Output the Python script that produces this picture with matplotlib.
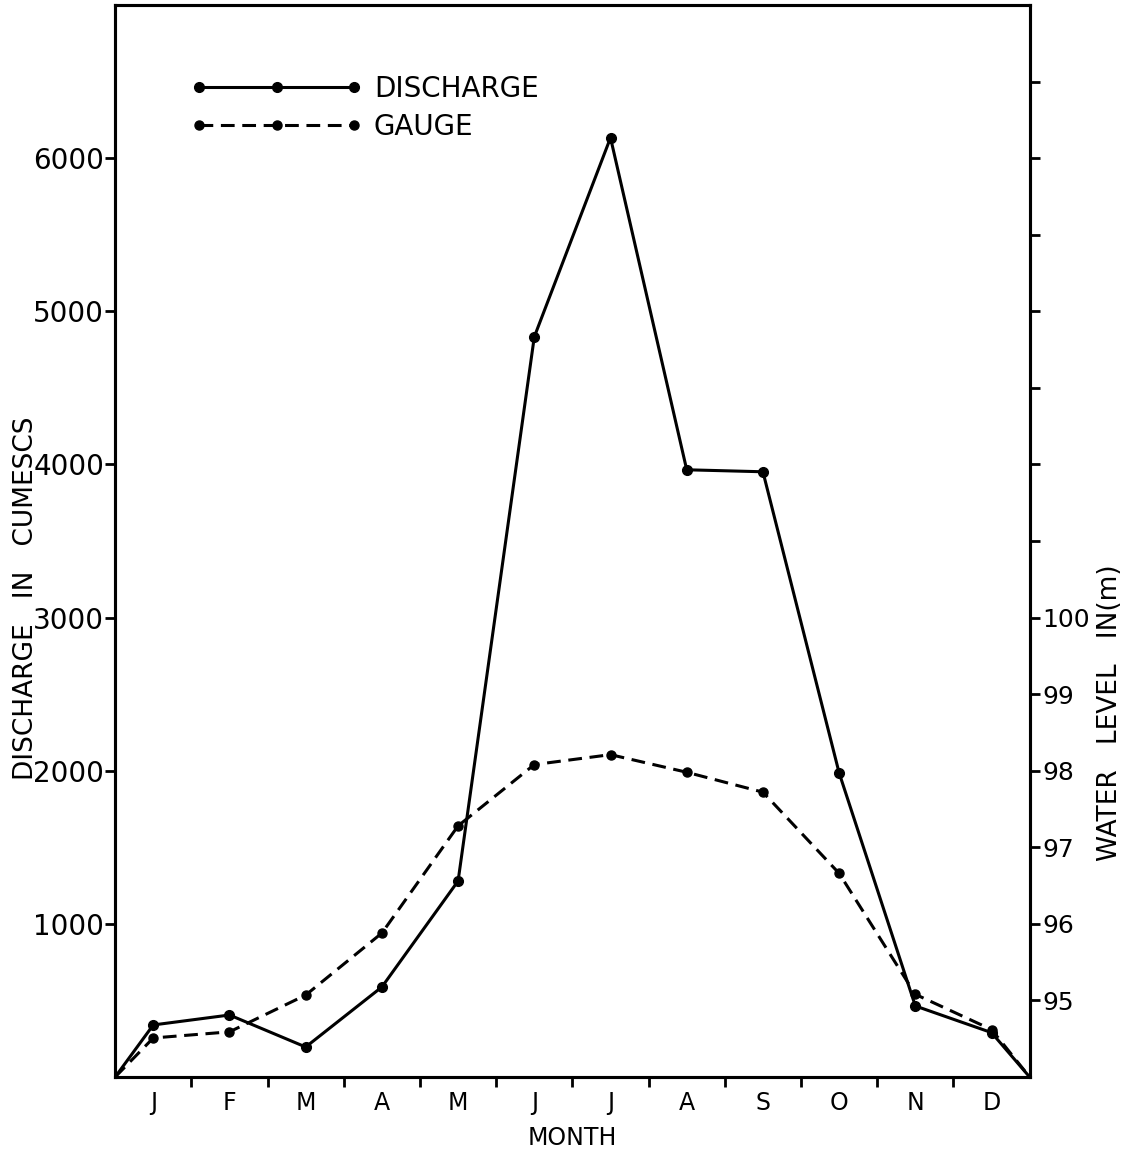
import matplotlib
matplotlib.use('Agg')
import matplotlib.pyplot as plt
from matplotlib.lines import Line2D
import numpy as np

months = ['J', 'F', 'M', 'A', 'M', 'J', 'J', 'A', 'S', 'O', 'N', 'D']
# positions: month centres, plus the start/end of the year
month_pos = [0.5 + i for i in range(12)]
x_pts = [0.0] + month_pos + [12.0]

# discharge in cumescs (left axis)
discharge = [0, 340, 405, 196, 588, 1280, 4833, 6133, 3965, 3952, 1986, 464, 290, 0]
# gauge / water level in m (right axis)
gauge = [94.0, 94.51, 94.59, 95.07, 95.88, 97.28, 98.08, 98.21, 97.98, 97.72, 96.66, 95.08, 94.62, 94.0]

left_ticks = [1000, 2000, 3000, 4000, 5000, 6000]
left_labels = ['1000', '2000', '3000', '4000', '5000', '6000']
right_ticks = list(range(95, 108))
right_labels = ['95', '96', '97', '98', '99', '100'] + [''] * 7

fig = plt.figure(figsize=[11.29, 11.54], dpi=100)
ax = fig.add_axes([0.102, 0.0667, 0.810, 0.929])
ax2 = ax.twinx()

lw = 2.2
ax.plot(x_pts, discharge, color='black', lw=lw, marker='o', ms=7, markevery=list(range(1, 13)))
ax2.plot(x_pts, gauge, color='black', lw=lw, ls=(0, (4.5, 2.5)), marker='o', ms=6.5,
         markevery=list(range(1, 13)))

ax.set_xlim(0, 12)
ax.set_ylim(0, 7000)
ax2.set_ylim(94, 108)

ax.set_xticks(month_pos)
ax.set_xticklabels(months, fontsize=17)
ax.set_xticks(list(range(1, 12)), minor=True)
ax.tick_params(axis='x', which='major', length=0, pad=10)
ax.tick_params(axis='x', which='minor', length=7, width=2, direction='out')

ax.set_yticks(left_ticks)
ax.set_yticklabels(left_labels, fontsize=20)
ax.tick_params(axis='y', length=7, width=2, direction='out', pad=1)

ax2.set_yticks(right_ticks)
ax2.set_yticklabels(right_labels, fontsize=18)
ax2.tick_params(axis='y', length=7, width=2, direction='out', pad=2)

for sp in ax.spines.values():
    sp.set_linewidth(2.2)
for sp in ax2.spines.values():
    sp.set_linewidth(2.2)

ax.set_xlabel('MONTH', fontsize=17, labelpad=8)
ax.set_ylabel('DISCHARGE   IN   CUMESCS', fontsize=19, va='center')
ax.yaxis.set_label_coords(-0.098, 0.447)
ax2.set_ylabel('WATER   LEVEL   IN(m)', fontsize=19, rotation=90, va='center')
ax2.yaxis.set_label_coords(1.088, 0.34)

handles = [Line2D([], [], color='black', lw=lw, marker='o', ms=7),
           Line2D([], [], color='black', lw=lw, ls=(0, (4.5, 2.5)), marker='o', ms=6.5)]
ax.legend(handles, ['DISCHARGE', 'GAUGE'], numpoints=3, handlelength=6.2,
          frameon=False, fontsize=20, loc='upper left',
          bbox_to_anchor=(0.055, 0.958), handletextpad=0.4, labelspacing=0.35)

plt.savefig('out.png', dpi=100)
plt.close()
